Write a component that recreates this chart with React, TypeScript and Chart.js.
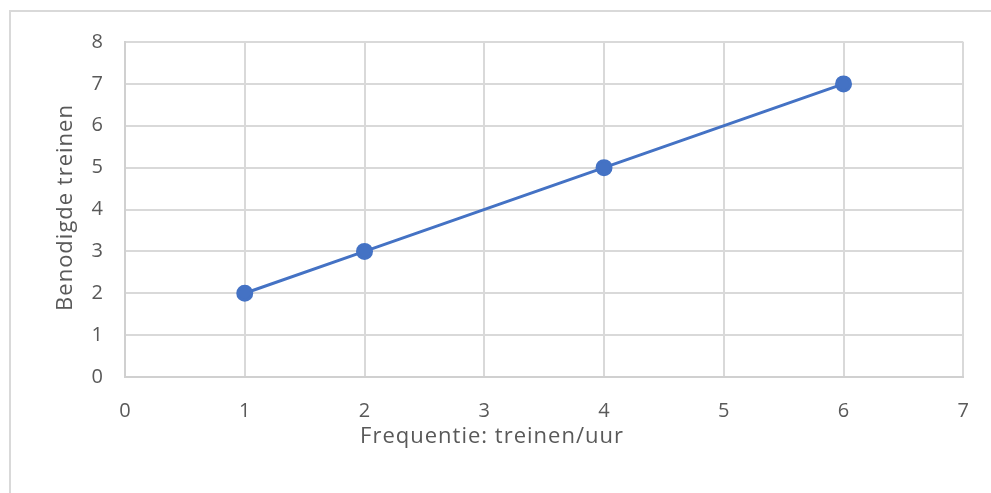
import React, { useEffect, useRef } from "react";
import { Chart, registerables } from "chart.js";

Chart.register(...registerables);

const xValues = [1, 2, 4, 6];
const yValues = [2, 3, 5, 7];
const xTitle = "Frequentie: treinen/uur";
const yTitle = "Benodigde treinen";

const TEXT = "#595959";
const FONT = "Open Sans";

const titlePlugin = {
  id: "axisTitles",
  afterDraw(chart: any) {
    const ctx = chart.ctx as CanvasRenderingContext2D;
    const area = chart.chartArea;
    ctx.save();
    ctx.fillStyle = TEXT;
    ctx.font = `22px "${FONT}"`;
    (ctx as any).letterSpacing = "1px";
    ctx.textAlign = "center";
    ctx.textBaseline = "middle";
    // x-axis title centred on the whole chart frame (Excel style)
    ctx.fillText(xTitle, 492, 437);
    // y-axis title, rotated
    ctx.translate(66, (area.top + area.bottom) / 2 - 2);
    ctx.rotate(-Math.PI / 2);
    ctx.fillText(yTitle, 0, 0);
    ctx.restore();
  },
};

export default function App() {
  const ref = useRef<HTMLCanvasElement | null>(null);
  useEffect(() => {
    if (!ref.current) return;
    const chart = new Chart(ref.current, {
      type: "scatter",
      data: {
        datasets: [
          {
            data: xValues.map((x, i) => ({ x, y: yValues[i] })),
            showLine: true,
            borderColor: "#4472C4",
            backgroundColor: "#4472C4",
            borderWidth: 3,
            pointRadius: 7,
            pointHoverRadius: 7,
          },
        ],
      },
      options: {
        animation: false,
        responsive: false,
        layout: { padding: { top: 42, right: 27, left: 0, bottom: 0 } },
        plugins: { legend: { display: false }, tooltip: { enabled: false } },
        scales: {
          x: {
            type: "linear",
            min: 0,
            max: 7,
            afterFit: (s: any) => {
              s.height = 116;
            },
            ticks: {
              stepSize: 1,
              padding: 22,
              color: TEXT,
              font: { family: FONT, size: 20 },
            },
            grid: { color: "#d9d9d9", lineWidth: 2, drawTicks: false },
            border: { color: "#d0d0d0", width: 2 },
          },
          y: {
            min: 0,
            max: 8,
            afterFit: (s: any) => {
              s.width = 125;
            },
            ticks: {
              stepSize: 1,
              padding: 22,
              color: TEXT,
              font: { family: FONT, size: 20 },
            },
            grid: { color: "#d9d9d9", lineWidth: 2, drawTicks: false },
            border: { color: "#d0d0d0", width: 2 },
          },
        },
      },
      plugins: [titlePlugin],
    });
    return () => chart.destroy();
  }, []);
  return (
    <div style={{ position: "absolute", left: 0, top: 0, width: 991, height: 493, background: "#fff", overflow: "hidden" }}>
      <div
        style={{
          position: "absolute",
          left: 9,
          top: 10,
          width: 1100,
          height: 600,
          border: "2px solid #d9d9d9",
        }}
      />
      <canvas ref={ref} width={991} height={493} style={{ position: "absolute", left: 0, top: 0 }} />
    </div>
  );
}
